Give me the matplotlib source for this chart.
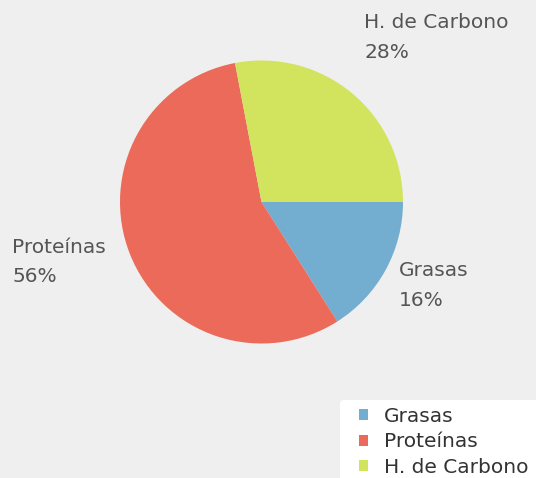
import matplotlib.pyplot as plt
from matplotlib.patches import FancyBboxPatch

# datos
nutrientes = ["Grasas", "Proteínas", "H. de Carbono"]
porcentajes = [16, 56, 28]
colores = ["#73add0", "#eb6a5a", "#d2e35e"]

W, H = 536, 478
fig = plt.figure(figsize=(W / 100, H / 100), dpi=100, facecolor="#efefef")

# centro del pastel ~ (262, 202) px, radio ~141 px
cx, cy, r = 261.5, 202, 141.5
ax = fig.add_axes([(cx - r) / W, (H - cy - r) / H, 2 * r / W, 2 * r / H])
ax.set_facecolor("#efefef")
wedges, _ = ax.pie(porcentajes, colors=colores, startangle=0, counterclock=False,
                   radius=1, wedgeprops=dict(linewidth=0))
ax.set_xlim(-1, 1)
ax.set_ylim(-1, 1)
ax.set_aspect("equal")
ax.axis("off")

gris = "#555555"
fs = 14.5
# etiquetas con porcentaje (centro de la primera linea)
pos = {"Grasas": (399, 270), "Proteínas": (12, 247), "H. de Carbono": (364, 23)}
for nom, p in zip(nutrientes, porcentajes):
    x, y = pos[nom]
    fig.text(x / W, 1 - y / H, nom, color=gris, fontsize=fs, va="center", ha="left")
    fig.text(x / W, 1 - (y + 30) / H, f"{p}%", color=gris, fontsize=fs,
             va="center", ha="left")

# fondo blanco de la leyenda
fondo = FancyBboxPatch((340 / W, -0.02), 0.5, (478 - 400) / H + 0.02,
                       boxstyle="round,pad=0,rounding_size=0.008",
                       transform=fig.transFigure, facecolor="white",
                       edgecolor="none", zorder=0)
fig.patches.append(fondo)

leg = fig.legend(wedges, nutrientes, loc="upper left",
                 bbox_to_anchor=(359 / W, 1 - 407 / H), frameon=False,
                 fontsize=fs, handlelength=0.45, handleheight=0.45,
                 handletextpad=0.8, labelspacing=0.32, borderpad=0,
                 borderaxespad=0)
for t in leg.get_texts():
    t.set_color("#333333")

fig.savefig("out.png", dpi=100, facecolor=fig.get_facecolor())
